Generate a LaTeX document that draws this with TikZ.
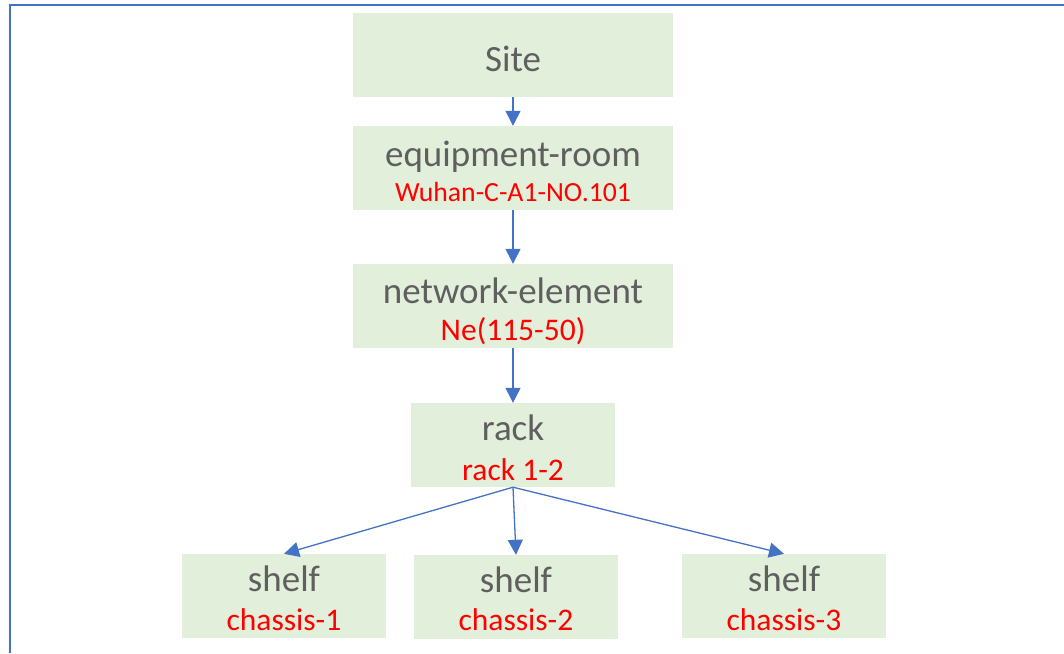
\documentclass[tikz,border=0pt]{standalone}
\usepackage{fontspec}
\setmainfont{Carlito}
\usetikzlibrary{arrows.meta}
\definecolor{boxgreen}{HTML}{E2EFDA}
\definecolor{linkblue}{HTML}{4472C4}
\definecolor{maingray}{HTML}{5F5F5F}
\definecolor{tagred}{HTML}{FF0000}
\tikzset{
  level/.style={fill=boxgreen, draw=none, inner sep=0pt, minimum height=84pt},
  widebox/.style={level, minimum width=320pt},
  narrowbox/.style={level, minimum width=204pt},
  title/.style={anchor=base, text=maingray, font=\fontsize{37}{40}\selectfont, inner sep=0pt},
  tag/.style={anchor=base, text=tagred, font=\fontsize{31.5}{34}\selectfont, inner sep=0pt},
  smalltag/.style={tag, font=\fontsize{27.7}{30}\selectfont},
  link/.style={draw=linkblue, line width=1.3pt, -{Triangle[width=15pt,length=15pt]}},
  frameline/.style={draw=linkblue, line width=2pt}
}
\begin{document}
\begin{tikzpicture}[x=1pt,y=-1pt]
\useasboundingbox (0,0) rectangle (1064,653);
\fill[white] (0,0) rectangle (1064,653);
% outer frame (top and left edges)
\coordinate (fr) at (1064,4.5);
\coordinate (fc) at (10,4.5);
\coordinate (fb) at (10,653);
\draw[frameline] (fr) -- (fc) -- (fb);

% boxes
\node[widebox] (site) at (513,55) {};
\node[widebox] (room) at (513,168) {};
\node[widebox] (ne)   at (513,306) {};
\node[narrowbox] (rack) at (513,445) {};
\node[narrowbox] (sh1) at (284,596) {};
\node[narrowbox] (sh2) at (516,597) {};
\node[narrowbox] (sh3) at (784,596) {};

% labels
\node[title] (siteT) at (513,71) {Site};
\node[title] (roomT) at (513,166.5) {equipment-room};
\node[smalltag] (roomR) at (513,201.5) {Wuhan-C-A1-NO.101};
\node[title] (neT) at (513,303) {network-element};
\node[tag] (neR) at (513,340) {Ne(115-50)};
\node[title] (rackT) at (513,440.5) {rack};
\node[tag] (rackR) at (513,480) {rack 1-2};
\node[title] (sh1T) at (284,591.5) {shelf};
\node[tag] (sh1R) at (284,630) {chassis-1};
\node[title] (sh2T) at (516,592.5) {shelf};
\node[tag] (sh2R) at (516,630.5) {chassis-2};
\node[title] (sh3T) at (784,591.5) {shelf};
\node[tag] (sh3R) at (784,630) {chassis-3};

% connectors
\draw[link] (site.south) -- (room.north);
\draw[link] (room.south) -- (ne.north);
\draw[link] (ne.south) -- (rack.north);
\draw[link] (rack.south) -- (sh1.north);
\draw[link] (rack.south) -- (sh2.north);
\draw[link] (rack.south) -- (sh3.north);
\end{tikzpicture}
\end{document}
